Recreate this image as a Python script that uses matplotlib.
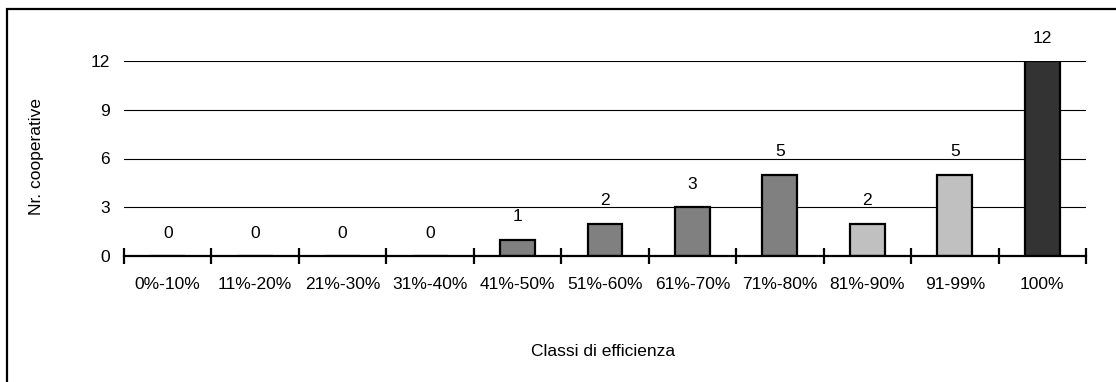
import matplotlib
matplotlib.use("Agg")
import matplotlib.pyplot as plt
from matplotlib.patches import Rectangle
import numpy as np

categories = ["0%-10%", "11%-20%", "21%-30%", "31%-40%", "41%-50%", "51%-60%",
              "61%-70%", "71%-80%", "81%-90%", "91-99%", "100%"]
values = [0, 0, 0, 0, 1, 2, 3, 5, 2, 5, 12]
colors = ["#808080"] * 8 + ["#c0c0c0"] * 2 + ["#333333"]
yticks = [0, 3, 6, 9, 12]

FS = 12.5
plt.rcParams['font.family'] = ['Liberation Sans', 'DejaVu Sans']
plt.rcParams['font.size'] = FS

W, H = 1116, 382
fig = plt.figure(figsize=(W / 100, H / 100), dpi=100)
ax = fig.add_axes([124 / W, 1 - 256 / H, (1086 - 124) / W, (256 - 61) / H])

x = np.arange(len(categories))
ax.bar(x, values, width=0.4, color=colors, edgecolor="black", linewidth=1.6, zorder=3)
for xi, v in zip(x, values):
    ax.annotate(str(v), (xi, v), xytext=(0, 11), textcoords="offset points",
                ha="center", va="bottom", fontsize=FS, annotation_clip=False)

ax.set_xlim(-0.5, len(categories) - 0.5)
ax.set_ylim(0, 12)
ax.set_yticks(yticks)
ax.tick_params(axis="y", length=0, pad=10, labelsize=FS)
ax.yaxis.grid(True, color="black", linewidth=0.8)
ax.set_axisbelow(True)

ax.set_xticks(x)
ax.set_xticklabels(categories)
ax.tick_params(axis="x", which="major", length=0, pad=15, labelsize=FS)
ax.set_xticks(np.arange(-0.5, len(categories)), minor=True)
ax.tick_params(axis="x", which="minor", direction="inout", length=11, width=1.6, color="black")

for s in ["top", "right", "left"]:
    ax.spines[s].set_visible(False)
ax.spines["bottom"].set_linewidth(1.6)
ax.spines["bottom"].set_zorder(4)

fig.text(603 / W, 1 - 352 / H, "Classi di efficienza", ha="center", va="center", fontsize=FS)
fig.text(37 / W, 1 - 157 / H, "Nr. cooperative", ha="center", va="center", rotation=90, fontsize=FS)

fig.patches.append(Rectangle((7 / W, -0.1), 1.2, 1 - 9 / H + 0.1, transform=fig.transFigure,
                             fill=False, edgecolor="black", linewidth=1.6))

fig.savefig("out.png", dpi=100)
